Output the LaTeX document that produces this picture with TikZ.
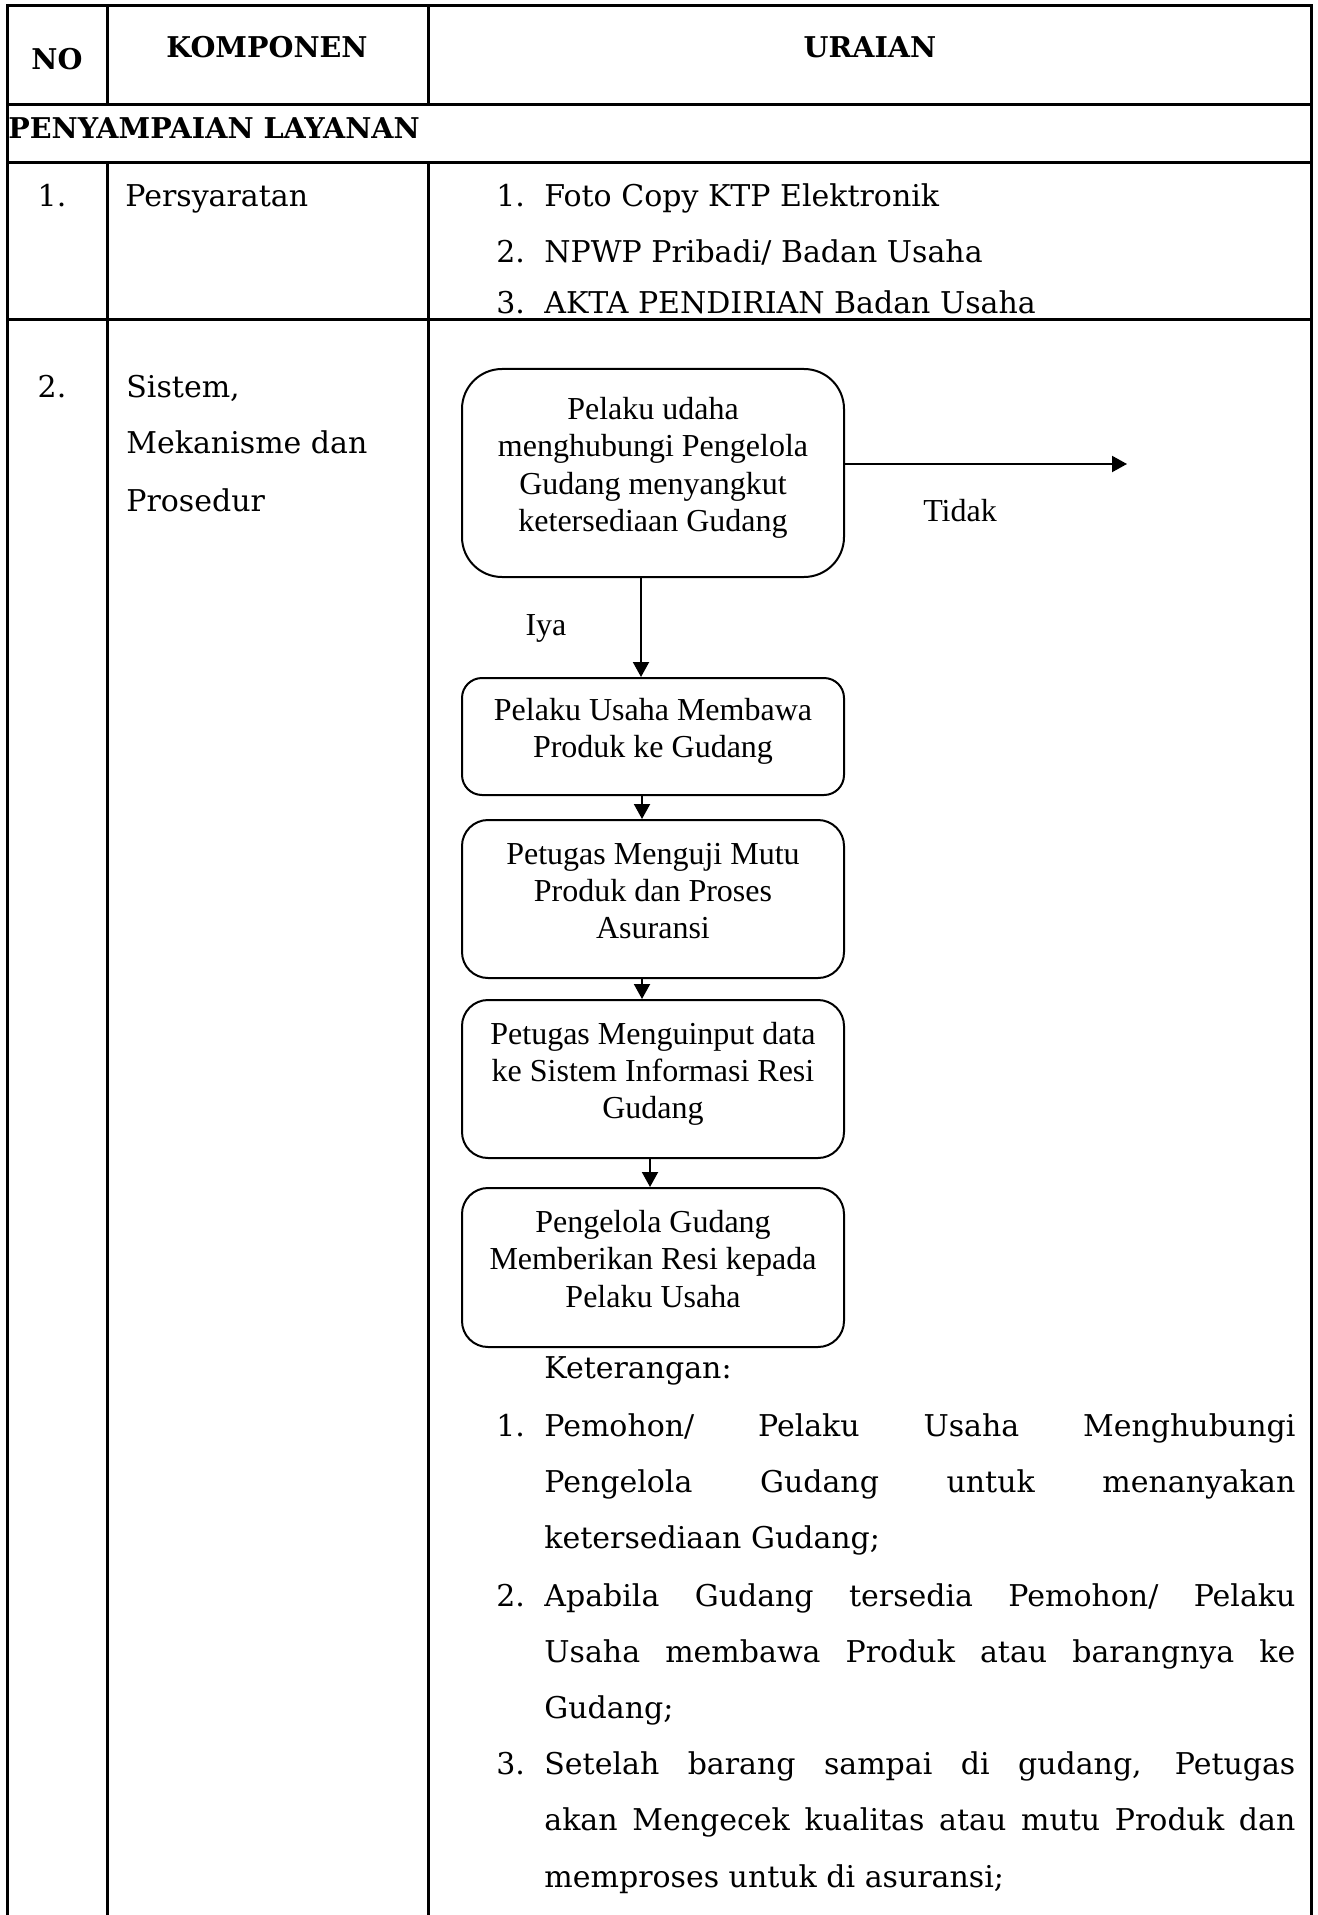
\documentclass[tikz,border=0pt]{standalone}
\usepackage{fontspec}
\setmainfont{DejaVu Serif}
\newfontfamily\tnrfont{Liberation Serif}
\usetikzlibrary{arrows.meta,positioning}

\newcommand{\bodysize}{\fontsize{15}{28.3}\selectfont}
\newcommand{\flowsize}{\tnrfont\fontsize{16}{18.7}\selectfont}
\newcommand{\jline}[1]{\makebox[375.5pt][s]{#1}}
\newcommand{\flowtext}[1]{\raisebox{2.5pt}[\height][\depth]{\begin{tabular}{@{}c@{}}#1\end{tabular}}}

\begin{document}
\begin{tikzpicture}[
  x=0.5pt, y=-0.5pt,
  rule/.style={line width=1.5pt, line cap=rect},
  headtxt/.style={font=\fontsize{14.3}{17}\selectfont\bfseries, inner sep=0pt, anchor=base},
  bodytxt/.style={font=\bodysize, inner sep=0pt, anchor=base west},
  numtxt/.style={font=\bodysize, inner sep=0pt, anchor=base},
  flowbox/.style={draw, line width=1pt, rounded corners=#1, minimum width=191pt, font=\flowsize, inner sep=0pt},
  flowlink/.style={-{Triangle[length=7.5pt,width=8pt]}, line width=1pt},
  flowlbl/.style={font=\flowsize, inner sep=0pt, anchor=base}
]
  \useasboundingbox (0,0) rectangle (1317,1915);

  % table rules
  \draw[rule] (7,1915) -- (7,6) -- (1311,6) -- (1311,1915);
  \foreach \y in {105,163,320} \draw[rule] (7,\y) -- (1311,\y);
  \foreach \x in {107,428} {
    \draw[rule] (\x,6) -- (\x,105);
    \draw[rule] (\x,163) -- (\x,1915);
  }

  % header
  \node[headtxt] (hNo) at (57,70) {NO};
  \node[headtxt] (hKomp) at (267,58) {KOMPONEN};
  \node[headtxt] (hUraian) at (870,58) {URAIAN};
  \node[headtxt, anchor=base west] (hLayanan) at (8,139) {PENYAMPAIAN LAYANAN};

  % row 1
  \node[numtxt] (no1) at (52,207) {1.};
  \node[bodytxt] (komp1) at (125,207) {Persyaratan};
  \node[bodytxt] (syaratNoA) at (496,207) {1.};
  \node[bodytxt] (syaratA) at (544,207) {Foto Copy KTP Elektronik};
  \node[bodytxt] (syaratNoB) at (496,263) {2.};
  \node[bodytxt] (syaratB) at (544,263) {NPWP Pribadi/ Badan Usaha};
  \node[bodytxt] (syaratNoC) at (496,314) {3.};
  \node[bodytxt] (syaratC) at (544,314) {AKTA PENDIRIAN Badan Usaha};

  % row 2
  \node[numtxt] (no2) at (52,397) {2.};
  \node[bodytxt] (komp2a) at (126,397) {Sistem,};
  \node[bodytxt] (komp2b) at (126,453) {Mekanisme dan};
  \node[bodytxt] (komp2c) at (126,511) {Prosedur};

  % flow
  \node[flowbox=20pt, minimum height=104pt] (hubungi) at (653,473)
    {\flowtext{Pelaku udaha\\menghubungi Pengelola\\Gudang menyangkut\\ketersediaan Gudang}};
  \node[flowbox=10pt, minimum height=58.5pt, below=49.5pt of hubungi] (bawa)
    {\flowtext{Pelaku Usaha Membawa\\Produk ke Gudang}};
  \node[flowbox=13pt, minimum height=79pt, below=11.5pt of bawa] (uji)
    {\flowtext{Petugas Menguji Mutu\\Produk dan Proses\\Asuransi}};
  \node[flowbox=13pt, minimum height=79pt, below=10pt of uji] (input)
    {\flowtext{Petugas Menguinput data\\ke Sistem Informasi Resi\\Gudang}};
  \node[flowbox=13pt, minimum height=79.5pt, below=14pt of input] (resi)
    {\flowtext{Pengelola Gudang\\Memberikan Resi kepada\\Pelaku Usaha}};

  \coordinate (tidakEnd) at (1127,464);
  \draw[flowlink] (hubungi.east |- tidakEnd) -- (tidakEnd);
  \node[flowlbl] (tidak) at (960,521) {Tidak};
  \draw[flowlink] ([xshift=-6pt]hubungi.south) -- ([xshift=-6pt]bawa.north);
  \node[flowlbl] (iya) at (546,635) {Iya};
  \draw[flowlink] ([xshift=-5.5pt]bawa.south) -- ([xshift=-5.5pt]uji.north);
  \draw[flowlink] ([xshift=-5.5pt]uji.south) -- ([xshift=-5.5pt]input.north);
  \draw[flowlink] ([xshift=-1.5pt]input.south) -- ([xshift=-1.5pt]resi.north);

  % keterangan
  \node[bodytxt] (ket) at (544,1378) {Keterangan:};
  \node[bodytxt] (ketNo1) at (496,1436) {1.};
  \node[bodytxt] (ket1a) at (544,1436) {\jline{Pemohon/ Pelaku Usaha Menghubungi}};
  \node[bodytxt] (ket1b) at (544,1492) {\jline{Pengelola Gudang untuk menanyakan}};
  \node[bodytxt] (ket1c) at (544,1548) {ketersediaan Gudang;};
  \node[bodytxt] (ketNo2) at (496,1606) {2.};
  \node[bodytxt] (ket2a) at (544,1606) {\jline{Apabila Gudang tersedia Pemohon/ Pelaku}};
  \node[bodytxt] (ket2b) at (544,1662) {\jline{Usaha membawa Produk atau barangnya ke}};
  \node[bodytxt] (ket2c) at (544,1718) {Gudang;};
  \node[bodytxt] (ketNo3) at (496,1774) {3.};
  \node[bodytxt] (ket3a) at (544,1774) {\jline{Setelah barang sampai di gudang, Petugas}};
  \node[bodytxt] (ket3b) at (544,1830) {\jline{akan Mengecek kualitas atau mutu Produk dan}};
  \node[bodytxt] (ket3c) at (544,1887) {memproses untuk di asuransi;};
\end{tikzpicture}
\end{document}
